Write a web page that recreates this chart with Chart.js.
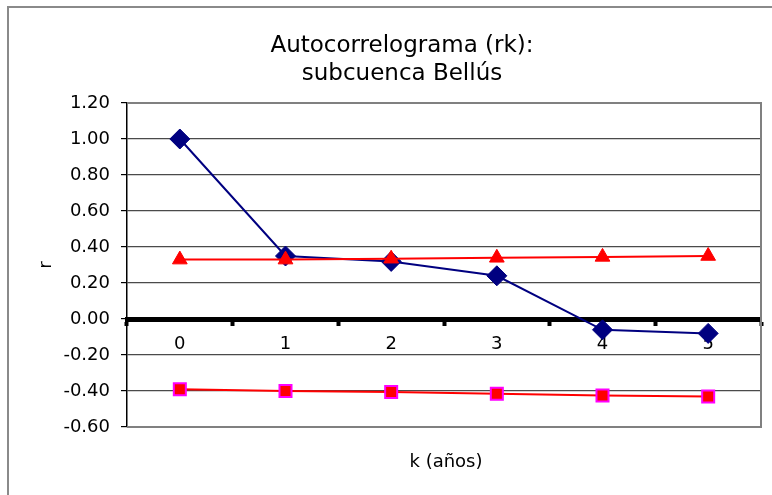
<!DOCTYPE html>
<html>
<head>
<meta charset="utf-8">
<script src="https://cdn.jsdelivr.net/npm/chart.js@4/dist/chart.umd.min.js"></script>
<style>
html,body{margin:0;padding:0;background:#fff;}
#wrap{position:relative;width:772px;height:495px;}
</style>
</head>
<body>
<div id="wrap"><canvas id="c" width="772" height="495"></canvas></div>
<script>
// ---- data ----
const categories = ['0', '1', '2', '3', '4', '5'];
const rk = [1.00, 0.35, 0.32, 0.24, -0.06, -0.08];
const upperLimit = [0.33, 0.33, 0.335, 0.34, 0.345, 0.35];
const lowerLimit = [-0.39, -0.40, -0.405, -0.415, -0.425, -0.43];
const yMin = -0.6, yMax = 1.2, yStep = 0.2;
const titleLines = ['Autocorrelograma (rk):', 'subcuenca Bellús'];
const xTitle = 'k (años)';
const yTitle = 'r';

const FONT = 'DejaVu Sans';
Chart.defaults.font.family = FONT;
Chart.defaults.color = '#000';

const decor = {
  id: 'decor',
  beforeDraw(chart) {
    const ctx = chart.ctx;
    ctx.save();
    ctx.fillStyle = '#fff';
    ctx.fillRect(0, 0, chart.width, chart.height);
    ctx.strokeStyle = '#8a8a8a';
    ctx.lineWidth = 2;
    ctx.strokeRect(8, 7, 900, 700);
    ctx.restore();
  },
  beforeDatasetsDraw(chart) {
    const ctx = chart.ctx, a = chart.chartArea;
    ctx.save();
    ctx.strokeStyle = '#808080';
    ctx.lineWidth = 2;
    ctx.beginPath();
    ctx.moveTo(a.left, a.top);
    ctx.lineTo(a.right, a.top);
    ctx.lineTo(a.right, a.bottom);
    ctx.lineTo(a.left, a.bottom);
    ctx.stroke();
    ctx.restore();
  },
  afterDraw(chart) {
    const ctx = chart.ctx, a = chart.chartArea;
    ctx.save();
    ctx.fillStyle = '#000';
    ctx.textAlign = 'center';
    ctx.textBaseline = 'alphabetic';
    ctx.font = '23px "' + FONT + '"';
    ctx.fillText(titleLines[0], 402, 52);
    ctx.fillText(titleLines[1], 402, 80);
    ctx.font = '18px "' + FONT + '"';
    ctx.fillText(xTitle, (a.left + a.right) / 2 + 2, 467);
    ctx.restore();
  }
};

new Chart(document.getElementById('c'), {
  type: 'line',
  data: {
    labels: categories,
    datasets: [
      {
        label: 'rk',
        data: rk,
        borderColor: '#000080',
        backgroundColor: '#000080',
        borderWidth: 2,
        pointStyle: 'rectRot',
        pointRadius: 10,
        pointBorderWidth: 1,
        pointBackgroundColor: '#000080',
        pointBorderColor: '#000080',
        tension: 0,
        order: 1
      },
      {
        label: 'upper',
        data: upperLimit,
        borderColor: '#ff0000',
        backgroundColor: '#ff0000',
        borderWidth: 2,
        pointStyle: 'triangle',
        pointRadius: 8.5,
        pointBorderWidth: 1,
        pointBackgroundColor: '#ff0000',
        pointBorderColor: '#ff0000',
        tension: 0,
        order: 0
      },
      {
        label: 'lower',
        data: lowerLimit,
        borderColor: '#ff0000',
        backgroundColor: '#ff0000',
        borderWidth: 2,
        pointStyle: 'rect',
        pointRadius: 8.5,
        pointBorderWidth: 2,
        pointBackgroundColor: '#ff0000',
        pointBorderColor: '#ff00ff',
        tension: 0,
        order: 2
      }
    ]
  },
  options: {
    responsive: false,
    animation: false,
    devicePixelRatio: 1,
    layout: { padding: { left: 32, right: 7, top: 103, bottom: 68 } },
    plugins: {
      legend: { display: false },
      title: { display: false },
      tooltip: { enabled: false }
    },
    scales: {
      x: {
        type: 'category',
        position: { y: 0 },
        offset: true,
        grid: {
          offset: true,
          drawOnChartArea: false,
          drawTicks: true,
          tickLength: 4,
          tickWidth: 4,
          tickColor: '#000'
        },
        border: { display: true, color: '#000', width: 5 },
        ticks: { padding: 11, font: { size: 18 }, color: '#000', maxRotation: 0 }
      },
      y: {
        min: yMin,
        max: yMax,
        afterFit(scale) { scale.width = 95; },
        ticks: {
          stepSize: yStep,
          padding: 11,
          font: { size: 18 },
          color: '#000',
          callback: v => (Math.abs(v) < 1e-9 ? 0 : v).toFixed(2)
        },
        grid: {
          color: ctx => (ctx.tick && Math.abs(ctx.tick.value) < 1e-9) ? '#000' : '#4a4a4a',
          lineWidth: 1.2,
          tickLength: 6,
          tickColor: '#000',
          tickWidth: 1.2
        },
        border: { display: true, color: '#000', width: 1.5 },
        title: {
          display: true,
          text: yTitle,
          font: { size: 18 },
          color: '#000',
          padding: { top: 4, bottom: 4 }
        }
      }
    }
  },
  plugins: [decor]
});
</script>
</body>
</html>
